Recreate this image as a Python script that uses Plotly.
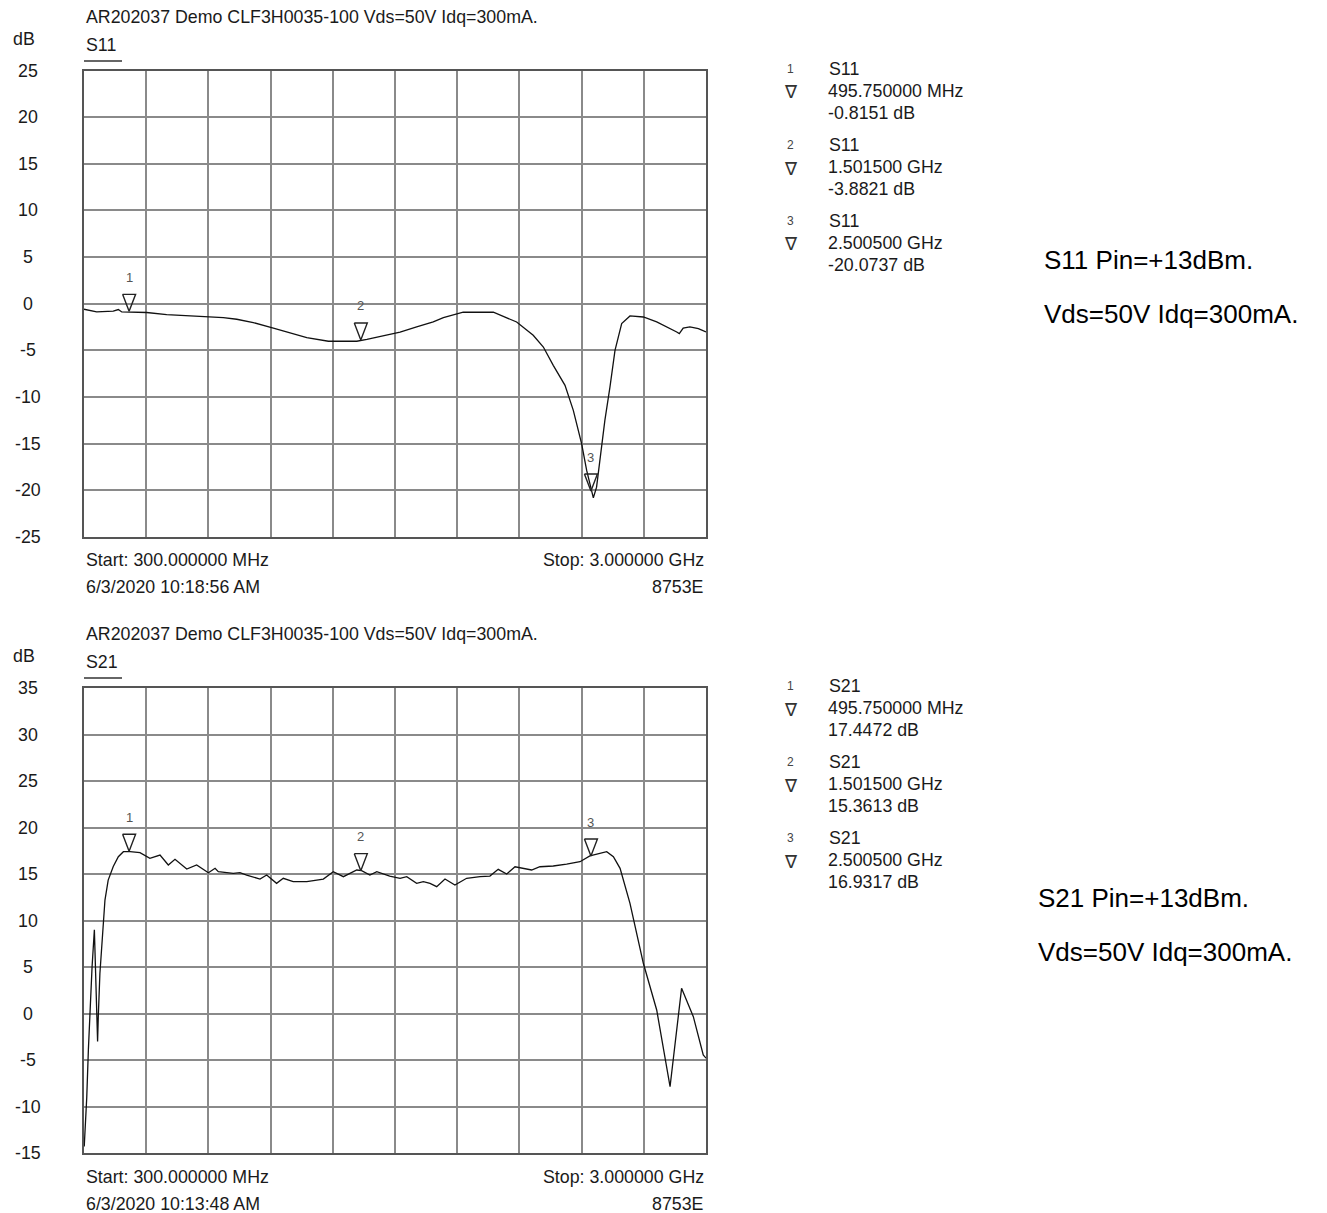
import plotly.graph_objects as go

W, H = 1327, 1213

# ---------------- data ----------------
s11_freq_mhz = [300, 355, 427, 449, 464, 572, 659, 803, 905, 963, 1035, 1122, 1180, 1267, 1361, 1484,
                1528, 1585, 1672, 1744, 1816, 1860, 1946, 2077, 2178, 2250, 2294, 2337, 2388, 2424,
                2460, 2482, 2504, 2511, 2525, 2540, 2561, 2583, 2605, 2634, 2670, 2728, 2786, 2873,
                2884, 2901, 2930, 2967, 3000]
s11_db = [-0.59, -0.88, -0.80, -0.62, -0.88, -0.94, -1.16, -1.34, -1.48, -1.66, -2.02, -2.60, -3.03,
          -3.63, -4.02, -4.02, -3.81, -3.49, -3.03, -2.49, -1.95, -1.48, -0.91, -0.91, -1.95, -3.38,
          -4.64, -6.60, -8.75, -11.43, -15.0, -17.86, -20.0, -20.8, -19.66, -16.44, -12.5, -8.93,
          -4.99, -2.12, -1.31, -1.42, -1.95, -3.03, -3.20, -2.60, -2.49, -2.66, -3.03]

s21_freq_mhz = [301, 312, 319, 326, 335, 345, 352, 359, 362, 369, 391, 405, 427, 449, 471, 500, 543,
                586, 630, 666, 695, 746, 789, 840, 869, 883, 948, 977, 1006, 1064, 1093, 1136, 1165,
                1208, 1267, 1339, 1382, 1426, 1484, 1505, 1541, 1571, 1627, 1672, 1701, 1744, 1773,
                1802, 1831, 1867, 1910, 1961, 2019, 2062, 2098, 2135, 2171, 2207, 2243, 2279, 2337,
                2395, 2453, 2496, 2540, 2569, 2598, 2627, 2670, 2728, 2786, 2844, 2894, 2945, 2988, 3000]
s21_db = [-14.3, -9.0, -3.9, 0.7, 5.0, 9.0, 3.0, -3.0, -0.34, 4.3, 12.2, 14.35, 15.8, 16.86, 17.4,
          17.4, 17.29, 16.68, 17.04, 15.97, 16.58, 15.54, 15.97, 15.14, 15.61, 15.25, 15.07, 15.14,
          14.89, 14.46, 14.89, 14.0, 14.54, 14.17, 14.17, 14.46, 15.25, 14.71, 15.43, 15.36, 14.89,
          15.25, 14.78, 14.54, 14.71, 14.0, 14.17, 14.0, 13.64, 14.46, 13.82, 14.54, 14.71, 14.78,
          15.5, 15.0, 15.78, 15.61, 15.43, 15.78, 15.86, 16.07, 16.32, 16.94, 17.23, 17.4, 16.86,
          15.61, 11.85, 5.4, 0.38, -7.87, 2.71, -0.34, -4.46, -4.8]

marker_ids = ["1", "2", "3"]
marker_freq_mhz = [495.75, 1501.5, 2500.5]
marker_freq_text = ["495.750000 MHz", "1.501500 GHz", "2.500500 GHz"]
s11_marker_db = [-0.8151, -3.8821, -20.0737]
s21_marker_db = [17.4472, 15.3613, 16.9317]

s11_yticks = [25, 20, 15, 10, 5, 0, -5, -10, -15, -20, -25]
s21_yticks = [35, 30, 25, 20, 15, 10, 5, 0, -5, -10, -15]
x_start, x_stop = 300, 3000

title_text = "AR202037 Demo CLF3H0035-100 Vds=50V Idq=300mA."

# ---------------- helpers ----------------
def px(x):
    return x / W

def py(y):
    return 1 - y / H

FONT = "Liberation Sans, Arial, sans-serif"
TXT = "#1a1a1a"
FS = 17.8

fig = go.Figure()

panels = [
    dict(name="S11", freq=s11_freq_mhz, db=s11_db, mk=s11_marker_db, yticks=s11_yticks,
         xa="x", ya="y", top=70.5, bot=537, date="6/3/2020 10:18:56 AM", off=0,
         side_x=1042, side_y=260),
    dict(name="S21", freq=s21_freq_mhz, db=s21_db, mk=s21_marker_db, yticks=s21_yticks,
         xa="x2", ya="y2", top=688, bot=1153, date="6/3/2020 10:13:48 AM", off=617,
         side_x=1036, side_y=898),
]

L, R = 84, 706
annotations = []
shapes = []

for i, p in enumerate(panels):
    lo, hi = min(p["yticks"]), max(p["yticks"])
    ppx_x = (R - L) / (x_stop - x_start)
    ppx_y = (p["bot"] - p["top"]) / (hi - lo)
    # trace
    fig.add_trace(go.Scatter(x=p["freq"], y=p["db"], mode="lines",
                             line=dict(color="#111111", width=1.3),
                             xaxis=p["xa"], yaxis=p["ya"], showlegend=False, hoverinfo="skip"))
    # marker triangles (tip on the marker value)
    hw = 6.5 / ppx_x
    ht = 17 / ppx_y
    for mid, f, v in zip(marker_ids, marker_freq_mhz, p["mk"]):
        fig.add_trace(go.Scatter(x=[f - hw, f + hw, f, f - hw], y=[v + ht, v + ht, v, v + ht],
                                 mode="lines", line=dict(color="#222222", width=1.4),
                                 xaxis=p["xa"], yaxis=p["ya"], showlegend=False, hoverinfo="skip"))
        annotations.append(dict(x=f, y=v, xref=p["xa"], yref=p["ya"], text=mid, showarrow=False,
                                yshift=34, font=dict(family=FONT, size=13, color="#555555")))
    # y tick labels
    for t in p["yticks"]:
        annotations.append(dict(x=px(28), y=t, xref="paper", yref=p["ya"], text=str(t),
                                showarrow=False, xanchor="center", yanchor="middle",
                                font=dict(family=FONT, size=FS, color=TXT)))
    o = p["off"]
    # titles and labels
    annotations += [
        dict(x=px(84), y=py(17 + o), xref="paper", yref="paper", text=title_text, showarrow=False,
             xanchor="left", yanchor="middle", font=dict(family=FONT, size=FS, color=TXT)),
        dict(x=px(24), y=py(39 + o), xref="paper", yref="paper", text="dB", showarrow=False,
             xanchor="center", yanchor="middle", font=dict(family=FONT, size=FS, color=TXT)),
        dict(x=px(84), y=py(45 + o), xref="paper", yref="paper", text=p["name"], showarrow=False,
             xanchor="left", yanchor="middle", font=dict(family=FONT, size=FS, color=TXT)),
        dict(x=px(84), y=py(560 + o), xref="paper", yref="paper", text="Start: 300.000000 MHz",
             showarrow=False, xanchor="left", yanchor="middle",
             font=dict(family=FONT, size=FS, color=TXT)),
        dict(x=px(706), y=py(560 + o), xref="paper", yref="paper", text="Stop: 3.000000 GHz",
             showarrow=False, xanchor="right", yanchor="middle",
             font=dict(family=FONT, size=FS, color=TXT)),
        dict(x=px(84), y=py(587 + o), xref="paper", yref="paper", text=p["date"],
             showarrow=False, xanchor="left", yanchor="middle",
             font=dict(family=FONT, size=FS, color=TXT)),
        dict(x=px(706), y=py(587 + o), xref="paper", yref="paper", text="8753E",
             showarrow=False, xanchor="right", yanchor="middle",
             font=dict(family=FONT, size=FS, color=TXT)),
    ]
    shapes.append(dict(type="line", xref="paper", yref="paper", x0=px(84), x1=px(122),
                       y0=py(61 + o), y1=py(61 + o), line=dict(color="#666666", width=2)))
    # marker readout list
    for k, (mid, ft, v) in enumerate(zip(marker_ids, marker_freq_text, p["mk"])):
        yb = 69 + 76 * k + o
        annotations += [
            dict(x=px(790), y=py(yb), xref="paper", yref="paper", text=mid, showarrow=False,
                 xanchor="center", yanchor="middle", font=dict(family=FONT, size=12, color="#444444")),
            dict(x=px(827), y=py(yb), xref="paper", yref="paper", text=p["name"], showarrow=False,
                 xanchor="left", yanchor="middle", font=dict(family=FONT, size=FS, color=TXT)),
            dict(x=px(791), y=py(yb + 23), xref="paper", yref="paper", text="\u2207", showarrow=False,
                 xanchor="center", yanchor="middle",
                 font=dict(family="DejaVu Sans, sans-serif", size=18, color="#333333")),
            dict(x=px(826), y=py(yb + 22), xref="paper", yref="paper", text=ft, showarrow=False,
                 xanchor="left", yanchor="middle", font=dict(family=FONT, size=FS, color=TXT)),
            dict(x=px(826), y=py(yb + 44), xref="paper", yref="paper", text=f"{v:.4f} dB",
                 showarrow=False, xanchor="left", yanchor="middle",
                 font=dict(family=FONT, size=FS, color=TXT)),
        ]
    # side notes
    sy = p["side_y"]
    sx = p["side_x"]
    annotations += [
        dict(x=px(sx), y=py(sy), xref="paper", yref="paper", text=f"{p['name']} Pin=+13dBm.",
             showarrow=False, xanchor="left", yanchor="middle",
             font=dict(family=FONT, size=26, color="#000000")),
        dict(x=px(sx), y=py(sy + 54), xref="paper", yref="paper", text="Vds=50V Idq=300mA.",
             showarrow=False, xanchor="left", yanchor="middle",
             font=dict(family=FONT, size=26, color="#000000")),
    ]

axis_common = dict(showgrid=True, gridcolor="#8a8a8a", gridwidth=1.5, zeroline=False,
                   showline=True, linecolor="#555555", linewidth=2, mirror=True,
                   ticks="", showticklabels=False, fixedrange=True)

fig.update_layout(
    width=W, height=H,
    margin=dict(l=0, r=0, t=0, b=0),
    paper_bgcolor="white", plot_bgcolor="white",
    showlegend=False,
    xaxis=dict(domain=[px(L), px(R)], range=[x_start, x_stop], dtick=270, tick0=x_start,
               anchor="y", **axis_common),
    yaxis=dict(domain=[py(537), py(70.5)], range=[-25, 25], dtick=5, anchor="x", **axis_common),
    xaxis2=dict(domain=[px(L), px(R)], range=[x_start, x_stop], dtick=270, tick0=x_start,
                anchor="y2", **axis_common),
    yaxis2=dict(domain=[py(1153), py(688)], range=[-15, 35], dtick=5, anchor="x2", **axis_common),
    annotations=annotations,
    shapes=shapes,
)

fig.write_html("out.html", config={"displayModeBar": False},
               post_script="document.body.style.margin='0px';document.body.style.overflow='hidden';")
